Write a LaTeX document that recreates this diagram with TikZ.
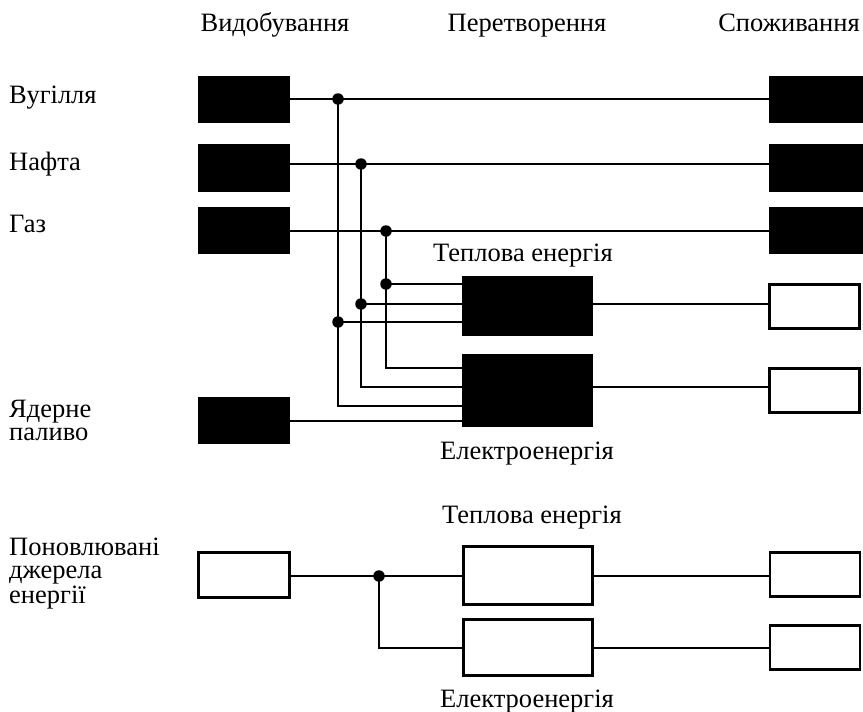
\documentclass[tikz,border=0pt]{standalone}
\usepackage{fontspec}
\setmainfont{Liberation Serif}
\begin{document}
\begin{tikzpicture}[x=1pt,y=-1pt,
  lw/.style={line width=2.4pt},
  blk/.style={draw, fill=black, line width=1.2pt, inner sep=0pt},
  wht/.style={draw, fill=white, line width=2.4pt, inner sep=0pt},
  lbl/.style={font=\fontsize{26.5}{23}\selectfont, inner sep=0pt},
  dot/.style={circle, fill=black, inner sep=0pt, minimum size=11.5pt},
]
\useasboundingbox (0,0) rectangle (863,712);
\fill[white] (0,0) rectangle (863,712);

% headers
\node[lbl, anchor=base] (h1) at (275,31) {Видобування};
\node[lbl, anchor=base] (h2) at (527,31) {Перетворення};
\node[lbl, anchor=base] (h3) at (789,31) {Споживання};

% left labels
\node[lbl, anchor=base west] (t1) at (9,103) {Вугілля};
\node[lbl, anchor=base west] (t2) at (9,170) {Нафта};
\node[lbl, anchor=base west] (t3) at (9,232) {Газ};
\node[lbl, anchor=base west, align=left] (t4) at (9,440) {Ядерне\\паливо};
\node[lbl, anchor=base west, align=left] (t5) at (9,603) {Поновлювані\\джерела\\енергії};

% source boxes
\node[blk, minimum width=91pt, minimum height=46pt] (coal) at (244,99.5) {};
\node[blk, minimum width=91pt, minimum height=46pt] (oil) at (244,168) {};
\node[blk, minimum width=91pt, minimum height=46pt] (gas) at (244,230.5) {};
\node[blk, minimum width=91pt, minimum height=46pt] (nuc) at (244,420.5) {};

% consumer black boxes
\node[blk, minimum width=92pt, minimum height=46pt] (coalC) at (816,99.5) {};
\node[blk, minimum width=92pt, minimum height=46pt] (oilC) at (816,168) {};
\node[blk, minimum width=92pt, minimum height=46pt] (gasC) at (816,230.5) {};

% conversion boxes
\node[blk, minimum width=130pt, minimum height=59pt] (heat) at (527.5,306) {};
\node[blk, minimum width=130pt, minimum height=72pt] (elec) at (527.5,390.5) {};
\node[lbl, anchor=base] (lh) at (523,261) {Теплова енергія};
\node[lbl, anchor=base] (le) at (527,459) {Електроенергія};

% consumer white boxes
\node[wht, minimum width=90pt, minimum height=44pt] (heatC) at (814.5,306.5) {};
\node[wht, minimum width=90pt, minimum height=44pt] (elecC) at (814.5,390.5) {};

% renewable
\node[wht, minimum width=91pt, minimum height=45pt] (ren) at (244,575) {};
\node[wht, minimum width=129pt, minimum height=58pt] (rheat) at (528,575.5) {};
\node[wht, minimum width=129pt, minimum height=56pt] (relec) at (528,647.5) {};
\node[wht, minimum width=90pt, minimum height=44pt] (rheatC) at (815,574.5) {};
\node[wht, minimum width=90pt, minimum height=44pt] (relecC) at (815,647.5) {};
\node[lbl, anchor=base] (lrh) at (532,523) {Теплова енергія};
\node[lbl, anchor=base] (lre) at (527,707) {Електроенергія};

% y levels
\coordinate (yc) at (0,99);
\coordinate (yo) at (0,164);
\coordinate (yg) at (0,231);
\coordinate (yh1) at (0,284);
\coordinate (yh2) at (0,304);
\coordinate (yh3) at (0,322);
\coordinate (ye1) at (0,368);
\coordinate (ye2) at (0,387);
\coordinate (ye3) at (0,406);
\coordinate (ye4) at (0,421);
\coordinate (yr1) at (0,576);
\coordinate (yr2) at (0,648);

% junctions
\coordinate (jc) at (338,99);
\coordinate (jo) at (361,164);
\coordinate (jg) at (386,231);
\coordinate (jch) at (338,322);
\coordinate (joh) at (361,304);
\coordinate (jgh) at (386,284);
\coordinate (jr) at (379,576);

% lines
\draw[lw] (coal.east |- yc) -- (coalC.west |- yc);
\draw[lw] (oil.east |- yo) -- (oilC.west |- yo);
\draw[lw] (gas.east |- yg) -- (gasC.west |- yg);

\draw[lw] (jc) |- (elec.west |- ye3);
\draw[lw] (jo) |- (elec.west |- ye2);
\draw[lw] (jg) |- (elec.west |- ye1);
\draw[lw] (jch) -- (heat.west |- yh3);
\draw[lw] (joh) -- (heat.west |- yh2);
\draw[lw] (jgh) -- (heat.west |- yh1);
\draw[lw] (nuc.east |- ye4) -- (elec.west |- ye4);

\draw[lw] (heat.east |- yh2) -- (heatC.west |- yh2);
\draw[lw] (elec.east |- ye2) -- (elecC.west |- ye2);

\draw[lw] (ren.east |- yr1) -- (rheat.west |- yr1);
\draw[lw] (jr) |- (relec.west |- yr2);
\draw[lw] (rheat.east |- yr1) -- (rheatC.west |- yr1);
\draw[lw] (relec.east |- yr2) -- (relecC.west |- yr2);

\foreach \j in {jc,jo,jg,jch,joh,jgh,jr}
  \node[dot] at (\j) {};
\end{tikzpicture}
\end{document}
